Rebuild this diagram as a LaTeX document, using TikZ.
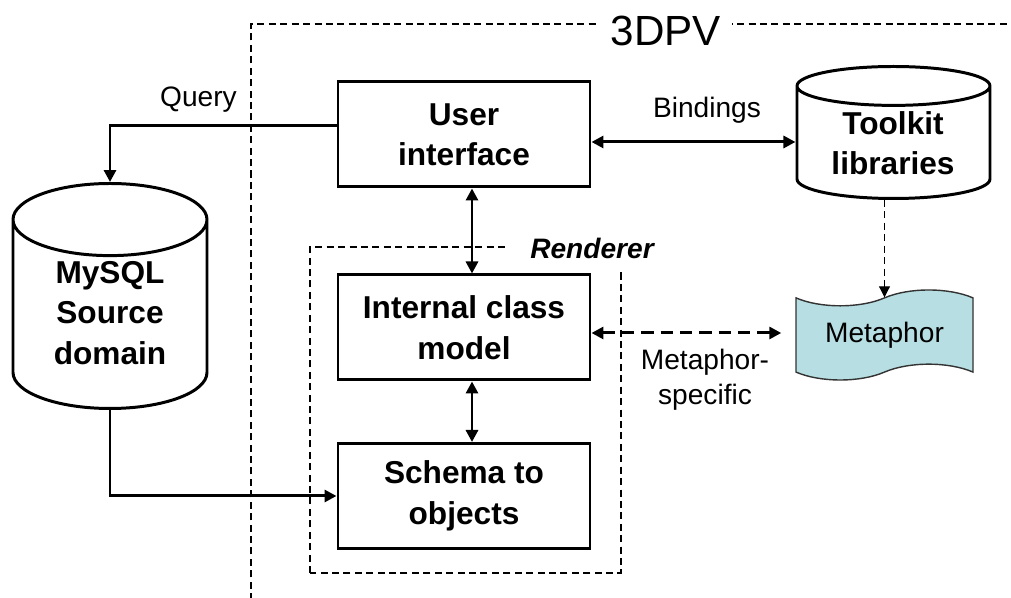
\documentclass[tikz,border=0pt]{standalone}
\usepackage{fontspec}
\setmainfont{Liberation Sans}
\usetikzlibrary{shapes.geometric,shapes.symbols,arrows.meta}
\definecolor{tapeCyan}{RGB}{183,223,227}

\begin{document}
\begin{tikzpicture}[
    font=\fontsize{16}{20}\selectfont,
    bold/.style={align=center, font=\fontsize{18}{23}\selectfont\bfseries},
    block/.style={draw, line width=1.7pt, minimum width=5.04cm, minimum height=2.1cm, bold},
    store/.style={draw, line width=1.7pt, cylinder, shape border rotate=90, anchor=south},
    frame/.style={line width=0.6pt, dash pattern=on 4pt off 2.5pt},
    link/.style={line width=1.7pt, -{Triangle[length=0.24cm,width=0.24cm]}},
    twoway/.style={line width=1.7pt, {Triangle[length=0.24cm,width=0.24cm]}-{Triangle[length=0.24cm,width=0.24cm]}},
  ]
    \path[use as bounding box, fill=white] (0,0) rectangle (20.22,11.96);

    \draw[frame] (5.02,-0.5) |- (20.8,11.48);
    \node[fill=white, inner xsep=6pt, font=\fontsize{24}{28}\selectfont] (sys) at (13.32,11.34) {3DPV};
    \draw[frame] (6.20,0.50) rectangle (12.42,7.02);
    \node[fill=white, inner xsep=12pt, inner ysep=7pt, font=\fontsize{16}{20}\selectfont\bfseries\itshape] (rnd) at (11.84,7.00) {Renderer};

    \node[block] (ui) at (9.28,9.27) {User\\interface};
    \node[block] (icm) at (9.28,5.41) {Internal class\\model};
    \node[block] (sch) at (9.28,2.04) {Schema to\\objects};

    \node[store, inner xsep=41pt, minimum width=3.86cm, minimum height=2.64cm, aspect=0.27] (tk) at (17.87,7.96) {};
    \node[bold] (tktxt) at (17.86,9.10) {Toolkit\\libraries};
    \node[store, inner xsep=38pt, minimum width=3.88cm, minimum height=4.5cm, aspect=0.54] (db) at (2.20,3.76) {};
    \node[bold] (dbtxt) at (2.20,5.70) {MySQL\\Source\\domain};
    \node[tape, draw=black!80, line width=0.8pt, fill=tapeCyan, tape bend height=9pt,
      minimum width=3.54cm, minimum height=1.8cm] (mt) at (17.69,5.26) {Metaphor};

    \draw[link] ([yshift=0.17cm]ui.west) -| (db.north);
    \draw[twoway] ([yshift=-0.15cm]ui.east) -- ([yshift=-0.15cm]ui.east -| tk.west);
    \draw[twoway] ([xshift=0.16cm]ui.south) -- ([xshift=0.16cm]icm.north);
    \draw[twoway] ([xshift=0.16cm]icm.south) -- ([xshift=0.16cm]sch.north);
    \draw[link] (db.south) |- (sch.west);
    \draw[twoway, dash pattern=on 7pt off 4pt, shorten >=0.28cm] ([yshift=-0.11cm]icm.east) -- ([yshift=-0.11cm]icm.east -| mt.west);
    \draw[frame, -{Triangle[length=0.22cm,width=0.22cm]}] (tk.south -| mt.north) -- (mt.north);

    \node[anchor=east] (qry) at (4.86,9.96) {Query};
    \node (bnd) at (14.14,9.76) {Bindings};
    \node[align=center] (msp) at (14.10,4.36) {Metaphor-\\specific};
\end{tikzpicture}
\end{document}
